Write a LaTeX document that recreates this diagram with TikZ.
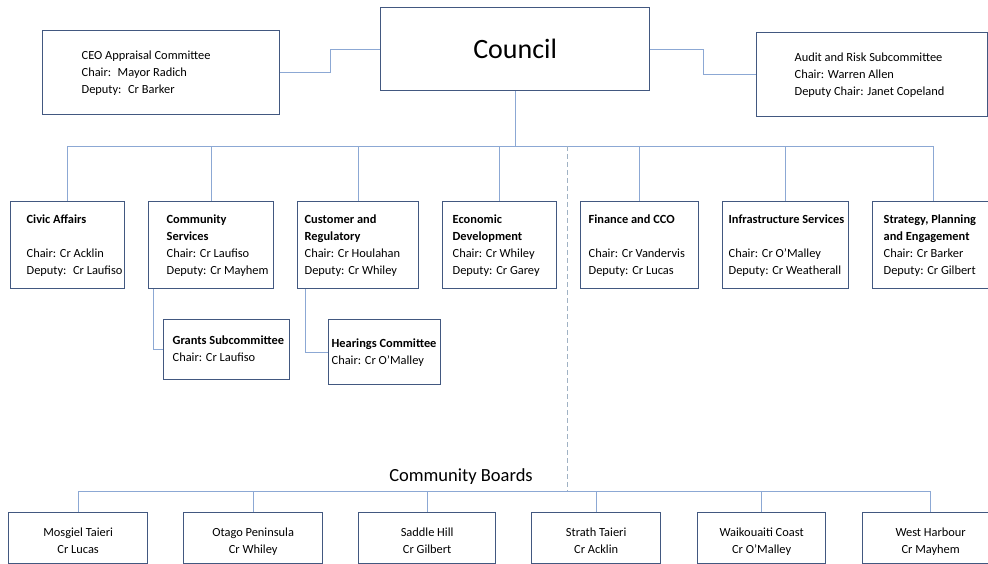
\documentclass[tikz,border=0pt]{standalone}
\usepackage{fontspec}
\setmainfont{Carlito}
\usepackage{tikz}
\usetikzlibrary{positioning}

\definecolor{boxblue}{RGB}{66,88,128}
\definecolor{linkblue}{RGB}{140,168,212}
\definecolor{dashgray}{RGB}{160,178,196}

% left-aligned lines inside a box of fixed width
\newcommand{\boxlines}[2]{\makebox[#1pt][l]{\begin{tabular}{@{}l@{}}#2\end{tabular}}}

\begin{document}
\begin{tikzpicture}[x=1pt, y=-1pt, font=\fontsize{12.4}{17}\selectfont,
  box/.style={draw=boxblue, line width=1.3pt, fill=white, inner ysep=0pt, anchor=north west},
  board/.style={box, align=center, minimum height=51pt, text height=31pt, text depth=0pt},
  link/.style={draw=linkblue, line width=0.9pt}]
  \useasboundingbox (0,0) rectangle (988,564);

  % top level
  \node[box, minimum width=269pt, minimum height=83pt, font=\fontsize{28}{32}\selectfont] (council) at (380,7) {Council};
  \node[box, minimum width=237pt, minimum height=84pt, inner xsep=39pt] (ceo) at (42,30)
    {\boxlines{159}{CEO Appraisal Committee\\ Chair:~ Mayor Radich\\ Deputy:~ Cr Barker}};
  \node[box, minimum width=231pt, minimum height=84pt, inner xsep=38pt] (audit) at (756,32)
    {\boxlines{155}{Audit and Risk Subcommittee\\ Chair: Warren Allen\\ Deputy Chair: Janet Copeland}};

  % committees
  \node[box, minimum width=114pt, minimum height=87pt, inner xsep=16pt] (civic) at (10,201)
    {\boxlines{82}{\textbf{Civic Affairs}\\ \\ Chair: Cr Acklin\\ Deputy:~ Cr Laufiso}};
  \node[box, minimum width=125pt, minimum height=87pt, inner xsep=18pt] (csvc) at (148,201)
    {\boxlines{89}{\textbf{Community}\\ \textbf{Services}\\ Chair: Cr Laufiso\\ Deputy: Cr Mayhem}};
  \node[box, minimum width=121pt, minimum height=87pt, inner xsep=7pt] (cust) at (297,201)
    {\boxlines{107}{\textbf{Customer and}\\ \textbf{Regulatory}\\ Chair: Cr Houlahan\\ Deputy: Cr Whiley}};
  \node[box, minimum width=114pt, minimum height=87pt, inner xsep=10pt] (econ) at (442,201)
    {\boxlines{94}{\textbf{Economic}\\ \textbf{Development}\\ Chair: Cr Whiley\\ Deputy: Cr Garey}};
  \node[box, minimum width=118pt, minimum height=87pt, inner xsep=8pt] (fin) at (580,201)
    {\boxlines{102}{\textbf{Finance and CCO}\\ \\ Chair: Cr Vandervis\\ Deputy: Cr Lucas}};
  \node[box, minimum width=126pt, minimum height=87pt, inner xsep=6pt] (infra) at (722,201)
    {\boxlines{114}{\textbf{Infrastructure Services}\\ \\ Chair: Cr O’Malley\\ Deputy: Cr Weatherall}};
  \node[box, minimum width=122pt, minimum height=87pt, inner xsep=11pt] (strat) at (872,201)
    {\boxlines{100}{\textbf{Strategy, Planning}\\ \textbf{and Engagement}\\ Chair: Cr Barker\\ Deputy: Cr Gilbert}};

  % subcommittees
  \node[box, minimum width=126pt, minimum height=60pt, inner xsep=9pt] (grants) at (163,319)
    {\boxlines{108}{\textbf{Grants Subcommittee}\\ Chair: Cr Laufiso}};
  \node[box, minimum width=112pt, minimum height=65pt, inner xsep=3pt] (hear) at (328,319)
    {\boxlines{106}{\textbf{Hearings Committee}\\ Chair: Cr O’Malley}};

  % community boards
  \node[font=\fontsize{18.5}{22}\selectfont] (cb) at (461,477) {Community Boards};
  \node[board, minimum width=139pt] (mosg) at (8,512) {Mosgiel Taieri\\ Cr Lucas};
  \node[board, minimum width=139pt] (otago) at (183,512) {Otago Peninsula\\ Cr Whiley};
  \node[board, minimum width=137pt] (saddle) at (358,512) {Saddle Hill\\ Cr Gilbert};
  \node[board, minimum width=129pt] (strath) at (531,512) {Strath Taieri\\ Cr Acklin};
  \node[board, minimum width=128pt] (waik) at (697,512) {Waikouaiti Coast\\ Cr O’Malley};
  \node[board, minimum width=136pt] (west) at (862,512) {West Harbour\\ Cr Mayhem};

  \coordinate (bus) at (0,146);
  \coordinate (bus2) at (0,491);
  \coordinate (split) at (567,146);

  % connectors
  \draw[link] (ceo.east) -- ++(50,0) |- (council.west);
  \draw[link] (council.east) -- ++(53,0) |- (audit.west);
  \draw[link] (council.south) -- (council.south |- bus);
  \draw[link] (civic.north) -- (civic.north |- bus) -- (strat.north |- bus) -- (strat.north);
  \foreach \n in {csvc,cust,econ,fin,infra}
    \draw[link] (\n.north) -- (\n.north |- bus);
  \draw[link] ([xshift=5pt]csvc.south west) |- (grants.west);
  \draw[link] ([xshift=8pt]cust.south west) |- (hear.west);
  \draw[dashgray, line width=0.9pt, dash pattern=on 5pt off 3pt] (split) -- (split |- bus2);
  \draw[link] (mosg.north) -- (mosg.north |- bus2) -- (west.north |- bus2) -- (west.north);
  \foreach \n in {otago,saddle,strath,waik}
    \draw[link] (\n.north) -- (\n.north |- bus2);
\end{tikzpicture}
\end{document}
